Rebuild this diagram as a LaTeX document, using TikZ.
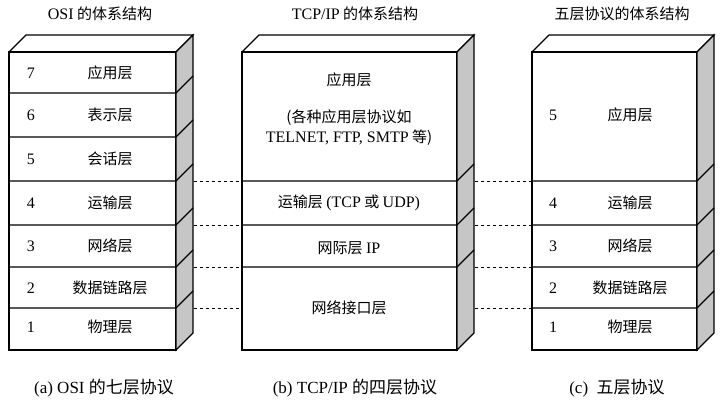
\documentclass[tikz,border=0pt]{standalone}
\usepackage{fontspec}
\setmainfont{Liberation Serif}
\newfontfamily\cjk{Noto Sans CJK SC}
\begin{document}
\begin{tikzpicture}[x=1pt,y=-1pt,
  txt/.style={font=\cjk\fontsize{15}{17}\selectfont,inner sep=0pt},
  num/.style={font=\fontsize{16}{18}\selectfont,inner sep=0pt},
  box/.style={draw,line width=1.1pt},
  dsh/.style={dashed,line width=0.6pt}]
\useasboundingbox (0,0) rectangle (723,417);
\def\dx{17}\def\dy{17}
\newcommand\myrm[1]{{\rmfamily\fontsize{16}{18}\selectfont #1}}
% dashed connectors (drawn first)
\foreach \y in {181,225,267,308}{
  \coordinate (l\y) at (176,\y); \coordinate (m\y) at (242,\y);
  \coordinate (n\y) at (457,\y); \coordinate (r\y) at (532,\y);
  \draw[dsh] (l\y) -- (m\y); \draw[dsh] (n\y) -- (r\y);}
\newcommand\mystack[5]{%
  \fill[white] (#1,#3) -- ++(\dx,-\dy) -- (#2+\dx,#3-\dy) -- (#2,#3) -- cycle;
  \draw[box,fill=white] (#1,#3) rectangle (#2,#4);
  \draw[box] (#1,#3) -- ++(\dx,-\dy) -- (#2+\dx,#3-\dy) -- (#2,#3);
  \draw[box,fill=gray!45] (#2,#3) -- (#2+\dx,#3-\dy) -- (#2+\dx,#4-\dy) -- (#2,#4) -- cycle;
  \foreach \b in {#5}{
    \draw[box] (#1,\b) -- (#2,\b) -- (#2+\dx,\b-\dy);}
}
\mystack{9}{176}{52}{350}{93,137,181,225,267,308}
\mystack{242}{457}{52}{350}{181,225,267}
\mystack{532}{697}{52}{350}{181,225,267,308}
% titles
\node[txt] (t1) at (100,14) {\myrm{OSI} 的体系结构};
\node[txt] (t2) at (355,14) {\myrm{TCP/IP} 的体系结构};
\node[txt] (t3) at (622,14) {五层协议的体系结构};
\foreach \n/\t/\y in {7/应用层/73,6/表示层/115,5/会话层/159,4/运输层/203,3/网络层/246,2/数据链路层/288,1/物理层/327}{
  \node[num] (on\n) at (31,\y) {\n};
  \node[txt] (ot\n) at (110,\y) {\t};}
\node[txt] (ma1) at (349,80) {应用层};
\node[txt] (ma2) at (349,118) {(各种应用层协议如};
\node[txt] (ma3) at (349,138) {\myrm{TELNET, FTP, SMTP} 等)};
\node[txt] (mt) at (349,203) {运输层 \myrm{(TCP} 或 \myrm{UDP)}};
\node[txt] (mi) at (349,248) {网际层 \myrm{IP}};
\node[txt] (mn) at (349,308) {网络接口层};
\foreach \n/\t/\y in {5/应用层/115,4/运输层/203,3/网络层/246,2/数据链路层/288,1/物理层/327}{
  \node[num] (fn\n) at (553,\y) {\n};
  \node[txt] (ft\n) at (630,\y) {\t};}
\node[txt] (c1) at (104,388) {\rmfamily\fontsize{17}{19}\selectfont (a) OSI \cjk 的七层协议};
\node[txt] (c2) at (355,388) {\rmfamily\fontsize{17}{19}\selectfont (b) TCP/IP \cjk 的四层协议};
\node[txt] (c3) at (617,388) {\rmfamily\fontsize{17}{19}\selectfont (c)\ \ \cjk 五层协议};
\end{tikzpicture}
\end{document}
